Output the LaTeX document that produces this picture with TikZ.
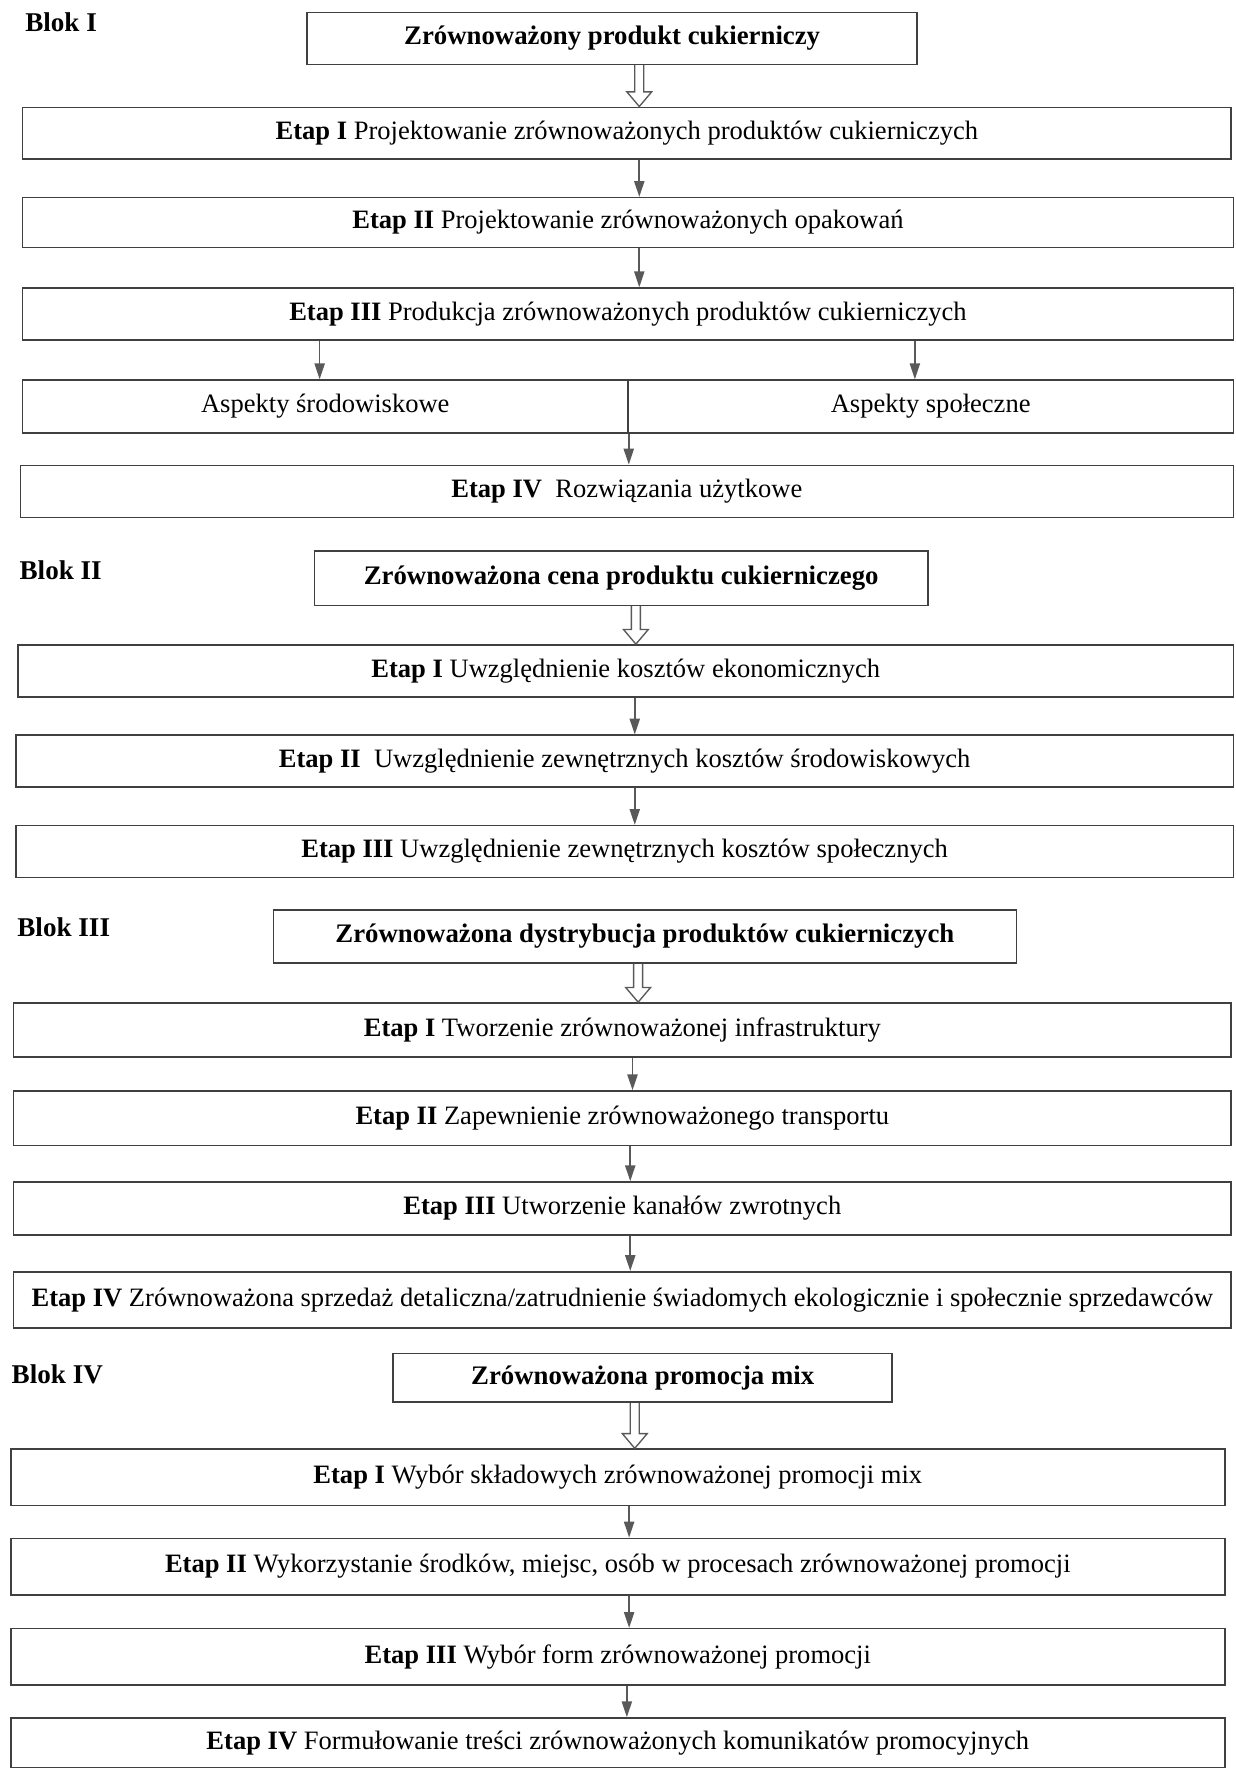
\documentclass[tikz,border=0pt]{standalone}
\usepackage{fontspec}
\setmainfont{Liberation Serif}
\usetikzlibrary{arrows.meta,calc}
\tikzset{
  stagebox/.style={draw=black!75, line width=0.7pt, inner sep=0pt, font=\fontsize{11.75}{14}\selectfont},
  headbox/.style={draw=black!75, line width=0.7pt, inner sep=0pt, font=\bfseries\fontsize{11.85}{14}\selectfont},
  blocklbl/.style={anchor=west, inner sep=0pt, font=\bfseries\fontsize{12}{14}\selectfont},
  arr/.style={-{Triangle[length=7pt,width=4.5pt]}, draw=black!65, line width=0.7pt},
  hollowst/.style={draw=black!65, line width=0.6pt},
}
\newcommand\hollowarr[3]{%
  \draw[hollowst] ($(#1.south -| #3,0)+(-4,0)$) -- ($(#2.north -| #3,0)+(-4,-13)$)
    -- ($(#2.north -| #3,0)+(-11,-13)$) -- (#2.north -| #3,0)
    -- ($(#2.north -| #3,0)+(11,-13)$) -- ($(#2.north -| #3,0)+(4,-13)$)
    -- ($(#1.south -| #3,0)+(4,0)$);}
\begin{document}
\begin{tikzpicture}[x=0.5pt,y=-0.5pt]
\useasboundingbox (0,0) rectangle (1094,1568);
% ---------- Blok I
\node[blocklbl] (b1) at (22,20) {Blok I};
\node[headbox, minimum width=270pt, minimum height=23pt] (h1) at (542,34) {Zrównoważony produkt cukierniczy};
\node[stagebox, minimum width=535pt, minimum height=23pt] (a1) at (555,118) {\textbf{Etap I} Projektowanie zrównoważonych produktów cukierniczych};
\node[stagebox, minimum width=536pt, minimum height=22pt] (a2) at (556,197) {\textbf{Etap II} Projektowanie zrównoważonych opakowań};
\node[stagebox, minimum width=536pt, minimum height=23pt] (a3) at (556,278) {\textbf{Etap III} Produkcja zrównoważonych produktów cukierniczych};
\node[stagebox, minimum width=268pt, minimum height=23.5pt] (asl) at (288,360) {Aspekty środowiskowe};
\node[stagebox, minimum width=268pt, minimum height=23.5pt] (asr) at (824,360) {Aspekty społeczne};
\node[stagebox, minimum width=537pt, minimum height=23pt] (a4) at (555,435) {\textbf{Etap IV}\ \ Rozwiązania użytkowe};
\hollowarr{h1}{a1}{566}
\draw[arr] (a1.south -| 566,0) -- (a2.north -| 566,0);
\draw[arr] (a2.south -| 566,0) -- (a3.north -| 566,0);
\draw[arr] (a3.south -| 283,0) -- (asl.north -| 283,0);
\draw[arr] (a3.south -| 810,0) -- (asr.north -| 810,0);
\draw[arr] (asl.south east) -- (a4.north -| asl.south east);
% ---------- Blok II
\node[blocklbl] (b2) at (17,505) {Blok II};
\node[headbox, minimum width=271.5pt, minimum height=24pt] (h2) at (550,512) {Zrównoważona cena produktu cukierniczego};
\node[stagebox, minimum width=538pt, minimum height=23pt] (c1) at (554,594) {\textbf{Etap I} Uwzględnienie kosztów ekonomicznych};
\node[stagebox, minimum width=539pt, minimum height=23pt] (c2) at (553,674) {\textbf{Etap II}\ \ Uwzględnienie zewnętrznych kosztów środowiskowych};
\node[stagebox, minimum width=539pt, minimum height=23pt] (c3) at (553,754) {\textbf{Etap III} Uwzględnienie zewnętrznych kosztów społecznych};
\hollowarr{h2}{c1}{563}
\draw[arr] (c1.south -| 562,0) -- (c2.north -| 562,0);
\draw[arr] (c2.south -| 562,0) -- (c3.north -| 562,0);
% ---------- Blok III
\node[blocklbl] (b3) at (15,821) {Blok III};
\node[headbox, minimum width=329pt, minimum height=23.5pt] (h3) at (571,829) {Zrównoważona dystrybucja produktów cukierniczych};
\node[stagebox, minimum width=539pt, minimum height=24pt] (d1) at (551,912) {\textbf{Etap I} Tworzenie zrównoważonej infrastruktury};
\node[stagebox, minimum width=539pt, minimum height=24pt] (d2) at (551,990) {\textbf{Etap II} Zapewnienie zrównoważonego transportu};
\node[stagebox, minimum width=539pt, minimum height=23.5pt] (d3) at (551,1070) {\textbf{Etap III} Utworzenie kanałów zwrotnych};
\node[stagebox, minimum width=539pt, minimum height=25pt] (d4) at (551,1151) {\textbf{Etap IV} Zrównoważona sprzedaż detaliczna/zatrudnienie świadomych ekologicznie i społecznie sprzedawców};
\hollowarr{h3}{d1}{565}
\draw[arr] (d1.south -| 560,0) -- (d2.north -| 560,0);
\draw[arr] (d2.south -| 558,0) -- (d3.north -| 558,0);
\draw[arr] (d3.south -| 558,0) -- (d4.north -| 558,0);
% ---------- Blok IV
\node[blocklbl] (b4) at (10,1217) {Blok IV};
\node[headbox, minimum width=221pt, minimum height=21.5pt] (h4) at (569,1220) {Zrównoważona promocja mix};
\node[stagebox, minimum width=537.5pt, minimum height=25pt] (e1) at (547,1308) {\textbf{Etap I} Wybór składowych zrównoważonej promocji mix};
\node[stagebox, minimum width=537.5pt, minimum height=25pt] (e2) at (547,1387) {\textbf{Etap II} Wykorzystanie środków, miejsc, osób w procesach zrównoważonej promocji};
\node[stagebox, minimum width=537.5pt, minimum height=25pt] (e3) at (547,1467) {\textbf{Etap III} Wybór form zrównoważonej promocji};
\node[stagebox, minimum width=537.5pt, minimum height=22pt] (e4) at (547,1543) {\textbf{Etap IV} Formułowanie treści zrównoważonych komunikatów promocyjnych};
\hollowarr{h4}{e1}{562}
\draw[arr] (e1.south -| 557,0) -- (e2.north -| 557,0);
\draw[arr] (e2.south -| 557,0) -- (e3.north -| 557,0);
\draw[arr] (e3.south -| 555,0) -- (e4.north -| 555,0);
\end{tikzpicture}
\end{document}
